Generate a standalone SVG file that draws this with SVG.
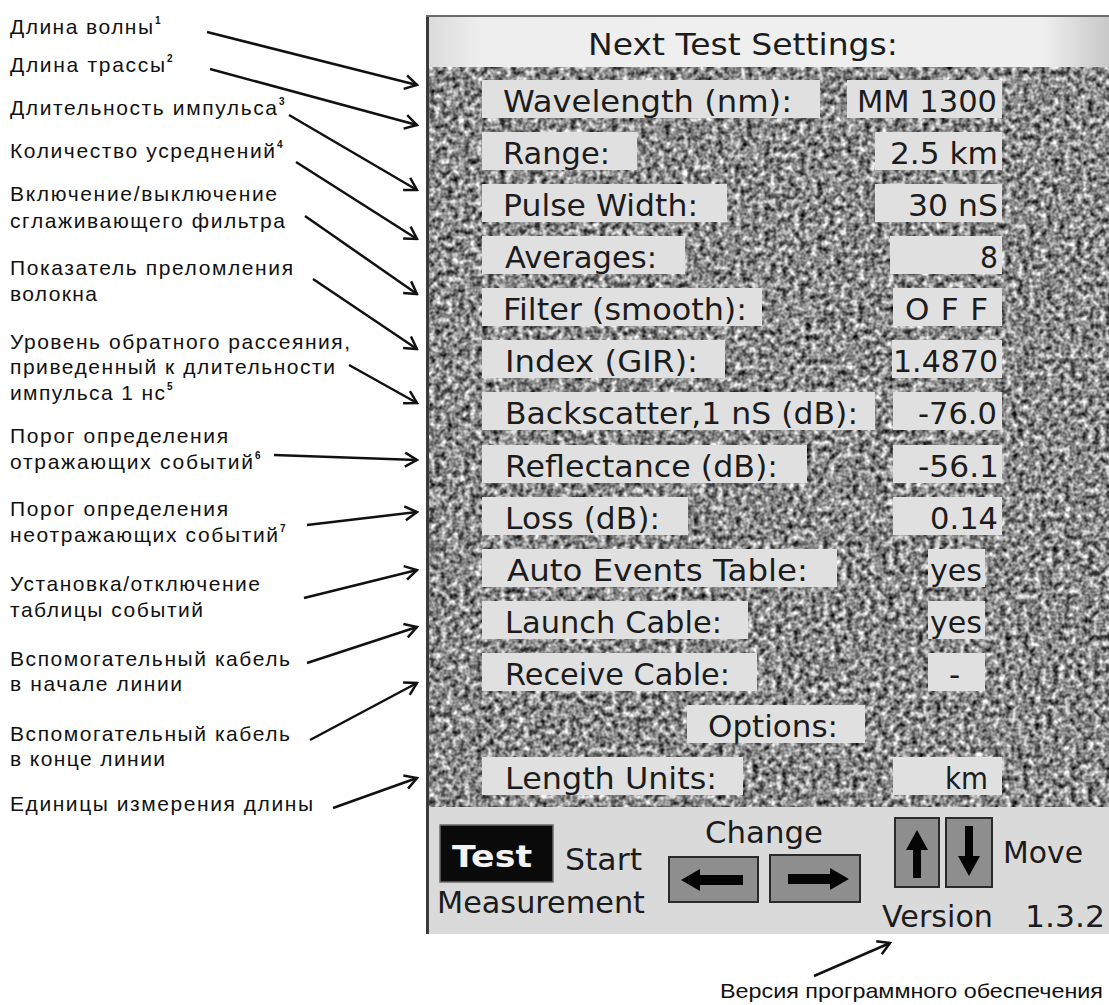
<svg xmlns="http://www.w3.org/2000/svg" width="1109" height="1005" viewBox="0 0 1109 1005">
<style>
.lbl{font-family:"Liberation Sans",Arial,sans-serif;font-size:21px;fill:#111}
.sup{font-family:"Liberation Sans",Arial,sans-serif;font-size:10px;font-weight:bold;fill:#111}
.scr{font-family:"DejaVu Sans","Liberation Sans",sans-serif;font-size:31px;fill:#1c1c1c}
.box{fill:#e0e0e0}
.btn{fill:#8e8e8e;stroke:#2a2a2a;stroke-width:2}
.ar{fill:#050505}
.con{stroke:#111;stroke-width:2.5;fill:none;marker-end:url(#head)}
</style>
<defs>
<marker id="head" viewBox="-14 -9 16 18" refX="0" refY="0" markerWidth="16" markerHeight="18" markerUnits="userSpaceOnUse" orient="auto">
<path d="M-12,-7 L0,0 L-12,7" fill="none" stroke="#111" stroke-width="2.5"/>
</marker>
<filter id="tex" x="0" y="0" width="1" height="1" color-interpolation-filters="sRGB">
<feTurbulence type="fractalNoise" baseFrequency="0.17" numOctaves="2" seed="4" result="n"/>
<feColorMatrix in="n" type="matrix" values="1 0 0 0 0  1 0 0 0 0  1 0 0 0 0  0 0 0 0 1" result="g"/>
<feComponentTransfer in="g">
<feFuncR type="linear" slope="1.45" intercept="-0.18"/>
<feFuncG type="linear" slope="1.45" intercept="-0.18"/>
<feFuncB type="linear" slope="1.45" intercept="-0.18"/>
</feComponentTransfer>
</filter>
<linearGradient id="hdr" x1="0" y1="0" x2="1" y2="0">
<stop offset="0" stop-color="#dadada"/>
<stop offset="0.08" stop-color="#eeeeee"/>
<stop offset="0.9" stop-color="#f0f0f0"/>
<stop offset="1" stop-color="#c8c8c8"/>
</linearGradient>
</defs>
<rect x="0" y="0" width="1109" height="1005" fill="#ffffff"/>

<g id="labels">
<g id="lbl-wavelength"><text class="lbl" x="10" y="34" textLength="143" lengthAdjust="spacing">Длина волны</text><text class="sup" x="155" y="24">1</text></g>
<g id="lbl-range"><text class="lbl" x="10" y="72" textLength="155" lengthAdjust="spacing">Длина трассы</text><text class="sup" x="167" y="62">2</text></g>
<g id="lbl-pulse"><text class="lbl" x="10" y="115" textLength="267" lengthAdjust="spacing">Длительность импульса</text><text class="sup" x="279" y="105">3</text></g>
<g id="lbl-averages"><text class="lbl" x="10" y="158" textLength="265" lengthAdjust="spacing">Количество усреднений</text><text class="sup" x="277" y="148">4</text></g>
<g id="lbl-filter"><text class="lbl" x="10" y="201" textLength="267" lengthAdjust="spacing">Включение/выключение</text><text class="lbl" x="10" y="228" textLength="275" lengthAdjust="spacing">сглаживающего фильтра</text></g>
<g id="lbl-index"><text class="lbl" x="10" y="275" textLength="283" lengthAdjust="spacing">Показатель преломления</text><text class="lbl" x="10" y="301" textLength="87" lengthAdjust="spacing">волокна</text></g>
<g id="lbl-backscatter"><text class="lbl" x="10" y="349" textLength="340" lengthAdjust="spacing">Уровень обратного рассеяния,</text><text class="lbl" x="10" y="374" textLength="325" lengthAdjust="spacing">приведенный к длительности</text><text class="lbl" x="10" y="400" textLength="155" lengthAdjust="spacing">импульса 1 нс</text><text class="sup" x="167" y="390">5</text></g>
<g id="lbl-reflectance"><text class="lbl" x="10" y="443" textLength="218" lengthAdjust="spacing">Порог определения</text><text class="lbl" x="10" y="469" textLength="243" lengthAdjust="spacing">отражающих событий</text><text class="sup" x="255" y="459">6</text></g>
<g id="lbl-loss"><text class="lbl" x="10" y="516" textLength="218" lengthAdjust="spacing">Порог определения</text><text class="lbl" x="10" y="542" textLength="268" lengthAdjust="spacing">неотражающих событий</text><text class="sup" x="280" y="532">7</text></g>
<g id="lbl-events"><text class="lbl" x="10" y="591" textLength="250" lengthAdjust="spacing">Установка/отключение</text><text class="lbl" x="10" y="617" textLength="193" lengthAdjust="spacing">таблицы событий</text></g>
<g id="lbl-launch"><text class="lbl" x="10" y="666" textLength="280" lengthAdjust="spacing">Вспомогательный кабель</text><text class="lbl" x="10" y="691" textLength="172" lengthAdjust="spacing">в начале линии</text></g>
<g id="lbl-receive"><text class="lbl" x="10" y="741" textLength="280" lengthAdjust="spacing">Вспомогательный кабель</text><text class="lbl" x="10" y="766" textLength="155" lengthAdjust="spacing">в конце линии</text></g>
<g id="lbl-units"><text class="lbl" x="10" y="811" textLength="303" lengthAdjust="spacing">Единицы измерения длины</text></g>
<g id="lbl-version"><text class="lbl" x="720" y="998" textLength="383" lengthAdjust="spacingAndGlyphs">Версия программного обеспечения</text></g>
</g>

<g id="screen">
<rect x="426" y="15" width="683" height="52" fill="url(#hdr)"/>
<rect x="429" y="67" width="680" height="740" fill="#8c8c8c"/>
<rect x="429" y="67" width="680" height="740" filter="url(#tex)"/>
<rect x="426" y="807" width="683" height="127" fill="#dadada"/>
<rect x="426" y="15" width="3" height="919" fill="#3a3a3a"/>
<rect x="426" y="15" width="683" height="2" fill="#6a6a6a"/>
<text class="scr" x="588" y="55" textLength="310" lengthAdjust="spacingAndGlyphs">Next Test Settings:</text>

<g id="row-wavelength"><rect class="box" x="482" y="80" width="338" height="38"/><rect class="box" x="847" y="80" width="155" height="38"/><text class="scr" x="503" y="112" textLength="289" lengthAdjust="spacingAndGlyphs">Wavelength (nm):</text><text class="scr" x="857" y="112" textLength="140" lengthAdjust="spacingAndGlyphs">MM 1300</text></g>
<g id="row-range"><rect class="box" x="482" y="132" width="155" height="38"/><rect class="box" x="875" y="132" width="127" height="38"/><text class="scr" x="503" y="164" textLength="107" lengthAdjust="spacingAndGlyphs">Range:</text><text class="scr" x="890" y="164" textLength="108" lengthAdjust="spacingAndGlyphs">2.5 km</text></g>
<g id="row-pulse"><rect class="box" x="482" y="184" width="245" height="38"/><rect class="box" x="875" y="184" width="127" height="38"/><text class="scr" x="503" y="216" textLength="195" lengthAdjust="spacingAndGlyphs">Pulse Width:</text><text class="scr" x="908" y="216" textLength="90" lengthAdjust="spacingAndGlyphs">30 nS</text></g>
<g id="row-averages"><rect class="box" x="482" y="236" width="203" height="38"/><rect class="box" x="890" y="236" width="112" height="38"/><text class="scr" x="505" y="268" textLength="152" lengthAdjust="spacingAndGlyphs">Averages:</text><text class="scr" x="980" y="268" textLength="18" lengthAdjust="spacingAndGlyphs">8</text></g>
<g id="row-filter"><rect class="box" x="482" y="288" width="280" height="38"/><rect class="box" x="893" y="288" width="109" height="38"/><text class="scr" x="503" y="320" textLength="244" lengthAdjust="spacingAndGlyphs">Filter (smooth):</text><text class="scr" x="905" y="320" textLength="83" lengthAdjust="spacing">OFF</text></g>
<g id="row-index"><rect class="box" x="482" y="340" width="243" height="38"/><rect class="box" x="892" y="340" width="110" height="38"/><text class="scr" x="505" y="372" textLength="193" lengthAdjust="spacingAndGlyphs">Index (GIR):</text><text class="scr" x="893" y="372" textLength="105" lengthAdjust="spacingAndGlyphs">1.4870</text></g>
<g id="row-backscatter"><rect class="box" x="482" y="392" width="393" height="38"/><rect class="box" x="893" y="392" width="109" height="38"/><text class="scr" x="505" y="424" textLength="353" lengthAdjust="spacingAndGlyphs">Backscatter,1 nS (dB):</text><text class="scr" x="918" y="424" textLength="79" lengthAdjust="spacingAndGlyphs">-76.0</text></g>
<g id="row-reflectance"><rect class="box" x="482" y="445" width="325" height="38"/><rect class="box" x="893" y="445" width="109" height="38"/><text class="scr" x="505" y="477" textLength="273" lengthAdjust="spacingAndGlyphs">Reflectance (dB):</text><text class="scr" x="918" y="477" textLength="81" lengthAdjust="spacingAndGlyphs">-56.1</text></g>
<g id="row-loss"><rect class="box" x="482" y="497" width="206" height="38"/><rect class="box" x="893" y="497" width="109" height="38"/><text class="scr" x="505" y="529" textLength="155" lengthAdjust="spacingAndGlyphs">Loss (dB):</text><text class="scr" x="930" y="529" textLength="68" lengthAdjust="spacingAndGlyphs">0.14</text></g>
<g id="row-events"><rect class="box" x="482" y="549" width="355" height="38"/><rect class="box" x="928" y="549" width="57" height="38"/><text class="scr" x="507" y="581" textLength="301" lengthAdjust="spacingAndGlyphs">Auto Events Table:</text><text class="scr" x="930" y="581" textLength="52" lengthAdjust="spacingAndGlyphs">yes</text></g>
<g id="row-launch"><rect class="box" x="482" y="601" width="266" height="38"/><rect class="box" x="928" y="601" width="57" height="38"/><text class="scr" x="505" y="633" textLength="217" lengthAdjust="spacingAndGlyphs">Launch Cable:</text><text class="scr" x="930" y="633" textLength="52" lengthAdjust="spacingAndGlyphs">yes</text></g>
<g id="row-receive"><rect class="box" x="482" y="653" width="275" height="38"/><rect class="box" x="928" y="653" width="57" height="38"/><text class="scr" x="505" y="685" textLength="225" lengthAdjust="spacingAndGlyphs">Receive Cable:</text><text class="scr" x="949" y="685">-</text></g>
<g id="row-options"><rect class="box" x="687" y="705" width="178" height="38"/><text class="scr" x="708" y="737" textLength="130" lengthAdjust="spacingAndGlyphs">Options:</text></g>
<g id="row-units"><rect class="box" x="482" y="757" width="261" height="38"/><rect class="box" x="893" y="757" width="109" height="38"/><text class="scr" x="505" y="789" textLength="212" lengthAdjust="spacingAndGlyphs">Length Units:</text><text class="scr" x="945" y="789" textLength="43" lengthAdjust="spacingAndGlyphs">km</text></g>

<g id="bottom-bar">
<rect x="440" y="825" width="113" height="57" fill="#0a0a0a" stroke="#6a6a6a" stroke-width="1.5"/>
<text x="452" y="867" textLength="80" lengthAdjust="spacingAndGlyphs" style="font-family:'DejaVu Sans',sans-serif;font-size:31px;font-weight:bold;fill:#f2f2f2">Test</text>
<text class="scr" x="565" y="870" textLength="77" lengthAdjust="spacingAndGlyphs">Start</text>
<text class="scr" x="437" y="913" textLength="208" lengthAdjust="spacingAndGlyphs">Measurement</text>
<text class="scr" x="705" y="843" textLength="118" lengthAdjust="spacingAndGlyphs">Change</text>
<rect class="btn" x="669" y="857" width="89" height="45"/>
<path class="ar" d="M681,880 L700,869 L700,875 L743,875 L743,885 L700,885 L700,891 Z"/>
<rect class="btn" x="770" y="855" width="90" height="47"/>
<path class="ar" d="M849,879 L830,868 L830,874 L788,874 L788,884 L830,884 L830,890 Z"/>
<rect class="btn" x="895" y="818" width="44" height="69"/>
<path class="ar" d="M917,830 L928,850 L921,850 L921,878 L913,878 L913,850 L906,850 Z"/>
<rect class="btn" x="946" y="818" width="46" height="69"/>
<path class="ar" d="M969,876 L980,856 L973,856 L973,826 L965,826 L965,856 L958,856 Z"/>
<text class="scr" x="1003" y="863" textLength="80" lengthAdjust="spacingAndGlyphs">Move</text>
<text class="scr" x="882" y="927" textLength="111" lengthAdjust="spacingAndGlyphs">Version</text>
<text class="scr" x="1025" y="927" textLength="80" lengthAdjust="spacingAndGlyphs">1.3.2</text>
</g>
</g>

<g id="connectors">
<line class="con" x1="207" y1="32" x2="417" y2="85"/>
<line class="con" x1="210" y1="69" x2="417" y2="125"/>
<line class="con" x1="289" y1="115" x2="417" y2="190"/>
<line class="con" x1="296" y1="162" x2="417" y2="239"/>
<line class="con" x1="305" y1="216" x2="417" y2="294"/>
<line class="con" x1="313" y1="279" x2="417" y2="349"/>
<line class="con" x1="349" y1="365" x2="417" y2="403"/>
<line class="con" x1="274" y1="455" x2="417" y2="460"/>
<line class="con" x1="307" y1="525" x2="417" y2="512"/>
<line class="con" x1="304" y1="598" x2="417" y2="570"/>
<line class="con" x1="307" y1="663" x2="417" y2="627"/>
<line class="con" x1="310" y1="740" x2="417" y2="683"/>
<line class="con" x1="333" y1="808" x2="417" y2="778"/>
<line class="con" x1="814" y1="976" x2="890" y2="943"/>
</g>
</svg>
